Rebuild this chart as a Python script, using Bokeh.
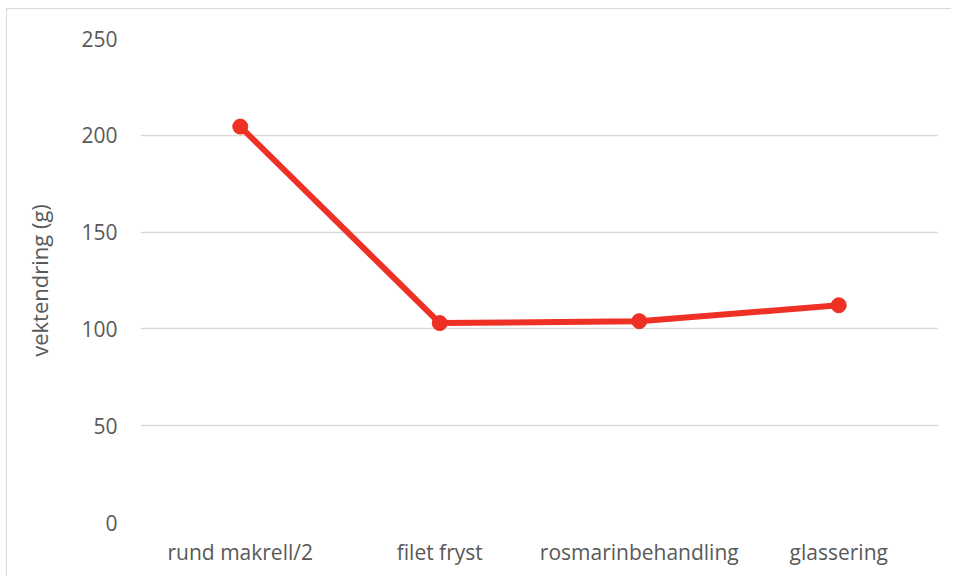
from bokeh.plotting import figure
from bokeh.embed import file_html
from bokeh.resources import INLINE
from bokeh.models import FixedTicker, Range1d

categories = ["rund makrell/2", "filet fryst", "rosmarinbehandling", "glassering"]
values = [204.5, 103.0, 104.0, 112.2]
y_ticks = [0, 50, 100, 150, 200, 250]

RED = "#EE3124"
TXT = "#595959"
FONT = "Open Sans"

p = figure(x_range=categories, width=945, height=568, output_backend="svg",
           toolbar_location=None, min_border_left=133, min_border_right=14,
           min_border_top=29, min_border_bottom=55,
           styles={"border-left": "1px solid #d9d9d9", "border-top": "1px solid #d9d9d9",
                   "margin-left": "6px", "margin-top": "8px"})
p.x_range.range_padding = 0
p.y_range = Range1d(0, 250)
p.outline_line_color = None

p.line(categories, values, line_color=RED, line_width=6)
p.scatter(categories, values, size=15, fill_color=RED, line_color=RED)

p.yaxis.ticker = FixedTicker(ticks=y_ticks)
p.ygrid.ticker = FixedTicker(ticks=y_ticks)
p.xgrid.grid_line_color = None
p.ygrid.grid_line_color = "#d9d9d9"
p.ygrid.grid_line_width = 1.5

for ax in (p.xaxis, p.yaxis):
    ax.axis_line_color = None
    ax.major_tick_line_color = None
    ax.minor_tick_line_color = None
    ax.major_label_text_font = FONT
    ax.major_label_text_font_size = "21px"
    ax.major_label_text_color = TXT

p.yaxis.major_label_standoff = 17
p.xaxis.major_label_standoff = 9
p.yaxis.axis_label = "vektendring (g)"
p.yaxis.axis_label_text_font = FONT
p.yaxis.axis_label_text_font_size = "22px"
p.yaxis.axis_label_text_font_style = "normal"
p.yaxis.axis_label_text_color = TXT
p.yaxis.axis_label_standoff = 24

open("out.html", "w").write(file_html(p, INLINE))
